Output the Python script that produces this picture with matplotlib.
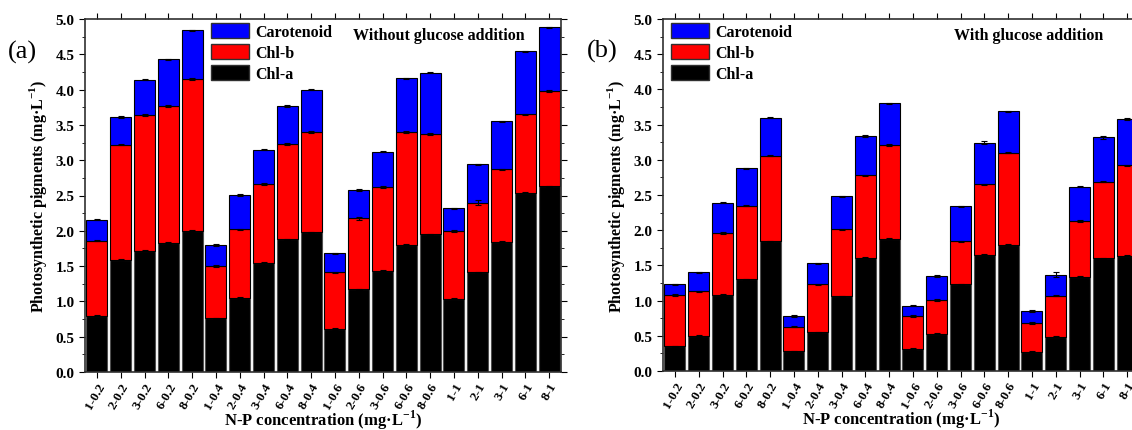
import matplotlib
matplotlib.use('Agg')
import matplotlib.pyplot as plt
import numpy as np
from matplotlib.patches import Patch
from matplotlib.ticker import MultipleLocator

plt.rcParams['font.family'] = 'Liberation Serif'
plt.rcParams['font.weight'] = 'bold'
plt.rcParams['mathtext.fontset'] = 'custom'
plt.rcParams['mathtext.rm'] = 'Liberation Serif'
plt.rcParams['mathtext.bf'] = 'Liberation Serif:bold'

categories = ['1-0.2', '2-0.2', '3-0.2', '6-0.2', '8-0.2',
              '1-0.4', '2-0.4', '3-0.4', '6-0.4', '8-0.4',
              '1-0.6', '2-0.6', '3-0.6', '6-0.6', '8-0.6',
              '1-1', '2-1', '3-1', '6-1', '8-1']

# (a) without glucose: cumulative tops
a_chla = [0.80, 1.59, 1.72, 1.83, 2.00, 0.76, 1.05, 1.54, 1.88, 1.98,
          0.61, 1.17, 1.43, 1.80, 1.95, 1.04, 1.41, 1.84, 2.54, 2.63]
a_chlb_top = [1.86, 3.22, 3.64, 3.77, 4.15, 1.50, 2.02, 2.66, 3.23, 3.40,
              1.41, 2.18, 2.62, 3.40, 3.37, 2.00, 2.40, 2.87, 3.65, 3.98]
a_total = [2.16, 3.61, 4.14, 4.43, 4.84, 1.80, 2.51, 3.15, 3.77, 4.00,
           1.68, 2.58, 3.12, 4.16, 4.24, 2.32, 2.94, 3.55, 4.54, 4.88]

# (b) with glucose
b_chla = [0.35, 0.50, 1.08, 1.30, 1.84, 0.28, 0.55, 1.06, 1.61, 1.88,
          0.31, 0.53, 1.23, 1.65, 1.79, 0.27, 0.49, 1.34, 1.60, 1.64]
b_chlb_top = [1.08, 1.13, 1.96, 2.35, 3.06, 0.63, 1.23, 2.01, 2.78, 3.21,
              0.78, 1.01, 1.84, 2.65, 3.10, 0.68, 1.07, 2.13, 2.69, 2.92]
b_total = [1.23, 1.40, 2.39, 2.88, 3.60, 0.78, 1.53, 2.48, 3.34, 3.80,
           0.93, 1.35, 2.34, 3.24, 3.69, 0.85, 1.37, 2.62, 3.32, 3.58]

# error bars (tiny)
a_err_a = [0.01, 0.01, 0.01, 0.01, 0.01, 0.01, 0.01, 0.02, 0.01, 0.01,
           0.01, 0.01, 0.01, 0.01, 0.01, 0.01, 0.01, 0.01, 0.01, 0.01]
a_err_b = [0.01, 0.01, 0.01, 0.01, 0.01, 0.01, 0.01, 0.01, 0.01, 0.01,
           0.01, 0.02, 0.01, 0.01, 0.01, 0.01, 0.04, 0.01, 0.01, 0.01]
a_err_c = [0.01, 0.01, 0.01, 0.01, 0.01, 0.02, 0.01, 0.01, 0.01, 0.01,
           0.01, 0.01, 0.01, 0.01, 0.01, 0.01, 0.01, 0.01, 0.01, 0.01]
b_err_a = [0.01] * 20
b_err_b = [0.01] * 20
b_err_c = [0.01, 0.01, 0.01, 0.01, 0.01, 0.01, 0.01, 0.01, 0.01, 0.01,
           0.01, 0.01, 0.01, 0.02, 0.01, 0.01, 0.03, 0.01, 0.02, 0.01]

fig = plt.figure(figsize=(11.32, 4.31), dpi=100)


def draw_panel(ax, chla, chlb_top, total, errs, title, leg_x):
    x = np.arange(len(categories))
    chla = np.array(chla)
    chlb = np.array(chlb_top) - chla
    car = np.array(total) - np.array(chlb_top)
    ec = '#505050'
    ax.bar(x, chla, 0.88, color='black', edgecolor=ec, linewidth=0.8)
    ax.bar(x, chlb, 0.88, bottom=chla, color='#ff0000', edgecolor='black', linewidth=0.8)
    ax.bar(x, car, 0.88, bottom=chla + chlb, color='#0000ff', edgecolor='black', linewidth=0.8)
    for tops, e in zip([chla, chla + chlb, chla + chlb + car], errs):
        ax.errorbar(x, tops, yerr=e, fmt='none', ecolor='black', elinewidth=0.8,
                    capsize=2.5, capthick=0.8)

    ax.set_xlim(-0.5, 19.5)
    ax.set_ylim(0, 5)
    ax.yaxis.set_major_locator(MultipleLocator(0.5))
    ax.yaxis.set_minor_locator(MultipleLocator(0.25))
    ax.set_xticks(x)
    ax.set_xticklabels(categories, rotation=60, ha='right', va='top',
                       rotation_mode='anchor', fontsize=9.5, fontweight='bold')
    for lab in ax.get_yticklabels():
        lab.set_fontsize(11)
        lab.set_fontweight('bold')
    ax.tick_params(axis='y', which='both', direction='out', right=True)
    ax.tick_params(axis='y', which='major', length=4)
    ax.tick_params(axis='y', which='minor', length=2.5)
    ax.tick_params(axis='x', direction='out', length=4, top=True)
    ax.tick_params(axis='x', which='major', pad=2)
    for sp in ax.spines.values():
        sp.set_linewidth(1.2)
        sp.set_color('#303030')

    ax.set_ylabel('Photosynthetic pigments (mg·L$^{\\mathbf{-1}}$)', fontsize=11.5,
                  fontweight='bold', labelpad=5)
    ax.set_xlabel('N-P concentration (mg·L$^{\\mathbf{-1}}$)', fontsize=12,
                  fontweight='bold', labelpad=-2)

    handles = [Patch(facecolor='#0000ff', edgecolor='#303030', label='Carotenoid'),
               Patch(facecolor='#ff0000', edgecolor='#303030', label='Chl-b'),
               Patch(facecolor='black', edgecolor='#303030', label='Chl-a')]
    ax.legend(handles=handles, loc='upper left', bbox_to_anchor=(leg_x, 0.99),
              frameon=False, borderpad=0, borderaxespad=0, handlelength=2.4,
              handleheight=1.1, labelspacing=0.25, handletextpad=0.35,
              prop={'family': 'Liberation Serif', 'weight': 'bold', 'size': 11.5})
    ax.text(title[1], 0.955, title[0], transform=ax.transAxes, ha='left', va='center',
            fontsize=11.5, fontweight='bold')


ax1 = fig.add_axes([85 / 1132, 58 / 431, 476 / 1132, 353 / 431])
draw_panel(ax1, a_chla, a_chlb_top, a_total, [a_err_a, a_err_b, a_err_c],
           ('Without glucose addition', 0.563), 0.265)

ax2 = fig.add_axes([663 / 1132, 59 / 431, 476 / 1132, 352 / 431])
draw_panel(ax2, b_chla, b_chlb_top, b_total, [b_err_a, b_err_b, b_err_c],
           ('With glucose addition', 0.611), 0.017)

fig.text(8 / 1132, 1 - 52 / 431, '(a)', fontsize=19, fontweight='normal', va='center', ha='left')
fig.text(587 / 1132, 1 - 51 / 431, '(b)', fontsize=19, fontweight='normal', va='center', ha='left')

fig.savefig('out.png', dpi=100)
